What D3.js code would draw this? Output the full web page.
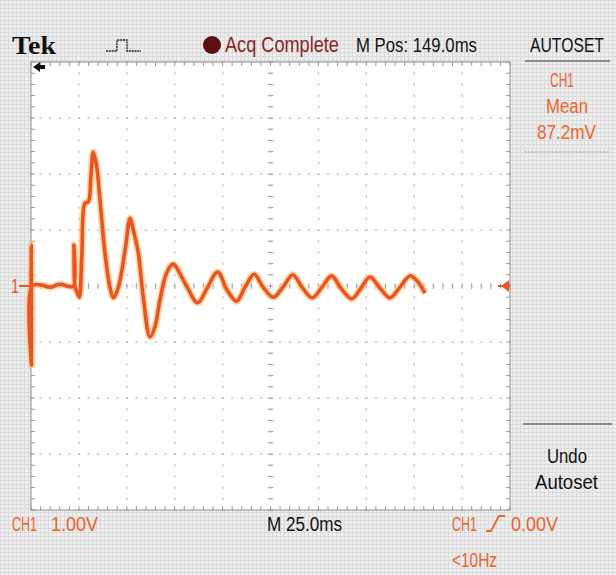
<!DOCTYPE html>
<html>
<head>
<meta charset="utf-8">
<script src="https://cdn.jsdelivr.net/npm/d3@7"></script>
<style>
  body { margin: 0; background: #fff; }
  svg { display: block; }
  .cond { font-family: "Liberation Sans", Arial, sans-serif; }
</style>
</head>
<body>
<svg id="scope" width="616" height="575"></svg>
<script>
// 1. Data (time in ms from left edge of screen, CH1 in volts)
const timeMs = [0, 0.1, 0.26, 0.5, 5, 10, 15, 20, 22.2, 22.4, 23.0, 24.0, 25.2, 26.5, 28.2, 29.9,
  31.3, 32.5, 34.3, 36.0, 38.6, 41.2, 43.0, 45.6, 49.1, 51.7, 53.4, 56.0, 58.6, 62.1, 64.7, 67.3,
  70.8, 74.1, 80.4, 87.0, 91.9, 97.4, 102.3, 107.4, 111.7, 116.5, 121.1, 126.5, 131.5, 136.6,
  141.4, 146.8, 151.9, 156.9, 161.8, 167.4, 172.2, 176.9, 182.2, 187.4, 192.6, 197.8, 202.0, 205.6];
const ch1Volts = [0, 0.73, -1.41, 0, 0.02, -0.02, 0.03, -0.01, 0, 0.73, -0.02, -0.11, -0.20, 0.52, 1.48, 1.50,
  1.98, 2.39, 2.13, 1.54, 0.59, -0.02, -0.21, -0.02, 0.64, 1.21, 1.00, 0.59, -0.20, -0.91, -0.73, -0.25,
  0.23, 0.39, 0.05, -0.30, -0.04, 0.25, -0.07, -0.27, -0.02, 0.21, -0.02, -0.20, -0.02, 0.20,
  -0.02, -0.21, -0.02, 0.18, -0.04, -0.23, -0.04, 0.16, -0.04, -0.21, -0.02, 0.18, 0.07, -0.13];

const timeDivs = d3.range(0, 251, 25);   // 25.0 ms/div, 10 divisions
const voltDivs = d3.range(-4, 5, 1);     // 1.00 V/div, 8 divisions
const triggerLevel = 0.0;

// 2. Layout
const svg = d3.select("#scope");
const W = 616, H = 575;
const gLeft = 31, gRight = 510, gTop = 62, gBottom = 510;
const orange = "#eb5322";
const textOrange = "#e8642e";

const x = d3.scaleLinear().domain([0, 250]).range([gLeft, gRight]);
const y = d3.scaleLinear().domain([-4, 4]).range([gBottom, gTop]);

// textured grey background
const defs = svg.append("defs");
const pat = defs.append("pattern")
  .attr("id", "paper").attr("width", 4).attr("height", 4)
  .attr("patternUnits", "userSpaceOnUse");
pat.append("rect").attr("width", 4).attr("height", 4).attr("fill", "#efefef");
pat.append("path").attr("d", "M0,0.5H4M0.5,0V4").attr("stroke", "#dadada").attr("stroke-width", 1);

svg.append("rect").attr("width", W).attr("height", H).attr("fill", "url(#paper)");
svg.append("rect")
  .attr("x", gLeft).attr("y", gTop)
  .attr("width", gRight - gLeft).attr("height", gBottom - gTop)
  .attr("fill", "#ffffff");

// 3. Graticule
const grid = svg.append("g");
const minorT = d3.range(0, 250.01, 5);
const minorV = d3.range(-4, 4.01, 0.2);

// dotted division lines
timeDivs.slice(1, -1).forEach(t => {
  grid.selectAll(null).data(minorV).join("rect")
    .attr("x", x(t) - 0.5).attr("y", d => y(d) - 1)
    .attr("width", 1.2).attr("height", 2.2).attr("fill", "#b9b9b9");
});
voltDivs.slice(1, -1).forEach(v => {
  grid.selectAll(null).data(minorT).join("rect")
    .attr("x", d => x(d) - 1).attr("y", y(v) - 0.5)
    .attr("width", 2.2).attr("height", 1.2).attr("fill", "#b9b9b9");
});

// centre axes ticks
grid.selectAll(null).data(minorT).join("line")
  .attr("x1", d => x(d)).attr("x2", d => x(d))
  .attr("y1", y(0) - 3).attr("y2", y(0) + 3)
  .attr("stroke", "#a8a8a8").attr("stroke-width", 1);
grid.selectAll(null).data(minorV).join("line")
  .attr("y1", d => y(d)).attr("y2", d => y(d))
  .attr("x1", x(125) - 3).attr("x2", x(125) + 3)
  .attr("stroke", "#a8a8a8").attr("stroke-width", 1);

// border ruler ticks
grid.selectAll(null).data(minorT).join("line")
  .attr("x1", d => x(d)).attr("x2", d => x(d))
  .attr("y1", gTop).attr("y2", gTop + 4)
  .attr("stroke", "#9a9a9a");
grid.selectAll(null).data(minorT).join("line")
  .attr("x1", d => x(d)).attr("x2", d => x(d))
  .attr("y1", gBottom).attr("y2", gBottom - 4)
  .attr("stroke", "#9a9a9a");
grid.selectAll(null).data(minorV).join("line")
  .attr("y1", d => y(d)).attr("y2", d => y(d))
  .attr("x1", gLeft).attr("x2", gLeft + 4)
  .attr("stroke", "#9a9a9a");
grid.selectAll(null).data(minorV).join("line")
  .attr("y1", d => y(d)).attr("y2", d => y(d))
  .attr("x1", gRight).attr("x2", gRight - 4)
  .attr("stroke", "#9a9a9a");

grid.append("rect")
  .attr("x", gLeft).attr("y", gTop)
  .attr("width", gRight - gLeft).attr("height", gBottom - gTop)
  .attr("fill", "none").attr("stroke", "#8c8c8c").attr("stroke-width", 1);

// 4. Trace
const pts = timeMs.map((t, i) => [t, ch1Volts[i]]);
const line = d3.line()
  .x(d => x(d[0])).y(d => y(d[1]))
  .curve(d3.curveCatmullRom.alpha(0.5));

svg.append("path").datum(pts)
  .attr("d", line).attr("fill", "none")
  .attr("stroke", "#f8c98a").attr("stroke-width", 7)
  .attr("stroke-linejoin", "round").attr("opacity", 0.75);
svg.append("path").datum(pts)
  .attr("d", line).attr("fill", "none")
  .attr("stroke", orange).attr("stroke-width", 3.6)
  .attr("stroke-linejoin", "round");

// 5. Readouts (narrow scope font: squeezed horizontally to the widths on screen)
function label(txt, px, py, size, color, width, opts) {
  opts = opts || {};
  const g = svg.append("g");
  const t = g.append("text")
    .attr("font-family", opts.family || "Liberation Sans, Arial, sans-serif")
    .attr("font-weight", opts.weight || "normal")
    .attr("font-size", size).attr("fill", color)
    .text(txt);
  const natural = t.node().getComputedTextLength();
  const sx = width / natural;
  g.attr("transform", `translate(${px},${py}) scale(${sx},1)`);
  return g;
}

// ground marker "1" and trigger level arrow
label("1", 11, y(0) + 7, 20, orange, 8);
svg.append("path")
  .attr("d", `M19,${y(0)}H${gLeft}`)
  .attr("stroke", orange).attr("stroke-width", 2);
svg.append("path")
  .attr("d", `M${gRight - 9},${y(triggerLevel)}l8,-6v12z`)
  .attr("fill", orange);
svg.append("path")
  .attr("d", `M${gRight - 12},${y(triggerLevel)}H${gRight}`)
  .attr("stroke", orange).attr("stroke-width", 2);

// trigger position arrow (off-screen left)
svg.append("path")
  .attr("d", "M33,67l7,-5v3h5v4h-5v3z")
  .attr("fill", "#111");

label("Tek", 12, 54, 26, "#111", 44, { family: "Liberation Serif, DejaVu Serif, serif", weight: "bold" });

svg.append("path")
  .attr("d", "M106,51H117V40H127V51H141")
  .attr("fill", "none").attr("stroke", "#222").attr("stroke-width", 1.4)
  .attr("stroke-dasharray", "2,0.8");

svg.append("circle").attr("cx", 212).attr("cy", 45).attr("r", 9).attr("fill", "#5a1010");
label("Acq Complete", 225, 52, 22, "#8a1f1f", 114);
label("M Pos: 149.0ms", 356, 52, 21, "#111", 121);
label("AUTOSET", 530, 52, 21, "#111", 74);

svg.append("line").attr("x1", 525).attr("x2", 610).attr("y1", 61).attr("y2", 61)
  .attr("stroke", "#6e6e6e").attr("stroke-width", 1.5);
label("CH1", 550, 87, 21, textOrange, 24);
label("Mean", 546, 113, 21, textOrange, 42);
label("87.2mV", 537, 139, 21, textOrange, 59);
svg.append("line").attr("x1", 525).attr("x2", 610).attr("y1", 152).attr("y2", 152)
  .attr("stroke", "#aaa").attr("stroke-width", 1).attr("stroke-dasharray", "2,1");
svg.append("line").attr("x1", 523).attr("x2", 612).attr("y1", 424).attr("y2", 424)
  .attr("stroke", "#6e6e6e").attr("stroke-width", 1.5);
label("Undo", 547, 463, 21, "#111", 40);
label("Autoset", 535, 489, 21, "#111", 63);

label("CH1", 12, 531, 21, textOrange, 25);
label("1.00V", 51, 531, 21, textOrange, 47);
label("M 25.0ms", 267, 531, 21, "#111", 75);
label("CH1", 452, 531, 21, textOrange, 25);
svg.append("path").attr("d", "M486,531h5l8,-15h6")
  .attr("fill", "none").attr("stroke", textOrange).attr("stroke-width", 1.8);
label("0.00V", 511, 531, 21, textOrange, 47);
label("<10Hz", 452, 567, 21, textOrange, 45);
</script>
</body>
</html>
